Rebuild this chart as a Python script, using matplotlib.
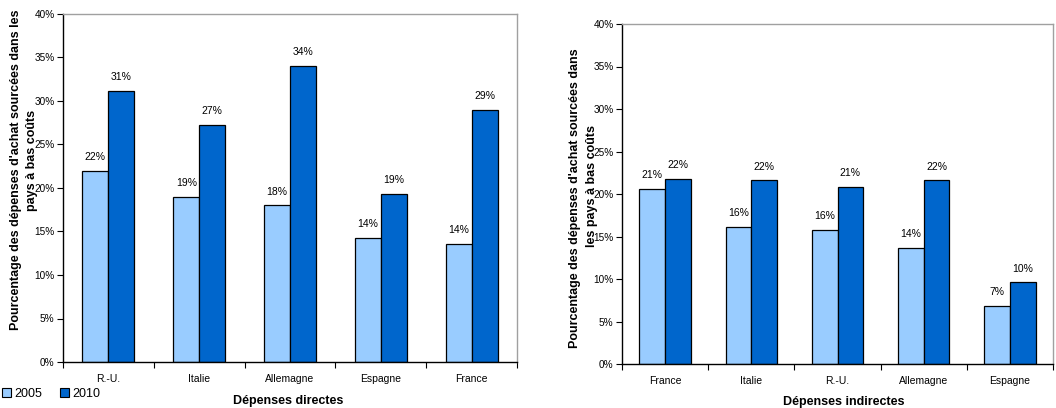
import matplotlib
matplotlib.use('Agg')
import matplotlib.pyplot as plt
from matplotlib.patches import Patch
import numpy as np

plt.rcParams['font.family'] = ['Liberation Sans', 'DejaVu Sans']

# data
years = ["2005", "2010"]
direct_countries = ["R.-U.", "Italie", "Allemagne", "Espagne", "France"]
direct_2005 = [22.0, 19.0, 18.0, 14.3, 13.6]
direct_2010 = [31.2, 27.2, 34.0, 19.3, 29.0]
indirect_countries = ["France", "Italie", "R.-U.", "Allemagne", "Espagne"]
indirect_2005 = [20.6, 16.1, 15.8, 13.7, 6.8]
indirect_2010 = [21.8, 21.6, 20.8, 21.6, 9.6]

light_blue = '#99CCFF'
dark_blue = '#0066CC'
W, H = 1056, 408

fig = plt.figure(figsize=(W / 100, H / 100), dpi=100)


def px_axes(x0, y0, x1, y1):
    # axes from pixel box (top-left origin)
    return fig.add_axes([x0 / W, 1 - y1 / H, (x1 - x0) / W, (y1 - y0) / H])


def draw_panel(ax, countries, v2005, v2010, bw):
    x = np.arange(len(countries))
    b1 = ax.bar(x - bw / 2, v2005, bw, color=light_blue, edgecolor='black', linewidth=0.9)
    b2 = ax.bar(x + bw / 2, v2010, bw, color=dark_blue, edgecolor='black', linewidth=0.9)
    for bars, vals in ((b1, v2005), (b2, v2010)):
        for rect, v in zip(bars, vals):
            ax.annotate(f"{round(v)}%", (rect.get_x() + rect.get_width() / 2, v),
                        xytext=(0, 10), textcoords='offset points',
                        ha='center', va='center', fontsize=7.5)
    ax.set_xlim(-0.5, len(countries) - 0.5)
    ax.set_ylim(0, 40)
    ax.set_yticks(range(0, 41, 5))
    ax.set_yticklabels([f"{t}%" for t in range(0, 41, 5)], fontsize=7.2)
    ax.set_xticks(np.arange(-0.5, len(countries), 1.0))
    ax.set_xticklabels([])
    ax.set_xticks(x, minor=True)
    ax.set_xticklabels(countries, minor=True, fontsize=7.5)
    ax.tick_params(axis='x', which='minor', length=0, pad=9)
    ax.tick_params(axis='x', which='major', length=4, width=0.8)
    ax.tick_params(axis='y', length=4, width=0.8, pad=2)
    for side in ('top', 'right'):
        ax.spines[side].set_color('#A0A0A0')
        ax.spines[side].set_linewidth(1.0)
    for side in ('left', 'bottom'):
        ax.spines[side].set_color('black')
        ax.spines[side].set_linewidth(1.0)


ax1 = px_axes(63, 14, 517, 362)
draw_panel(ax1, direct_countries, direct_2005, direct_2010, 0.286)
ax2 = px_axes(622, 24, 1053, 364)
draw_panel(ax2, indirect_countries, indirect_2005, indirect_2010, 0.298)

# y labels (two lines each)
lab = dict(rotation=90, ha='center', va='center', fontsize=9, fontweight='bold')
fig.text(16 / W, 1 - 170 / H, "Pourcentage des dépenses d'achat sourcées dans les", **lab)
fig.text(32 / W, 1 - 160 / H, "pays à bas coûts", **lab)
fig.text(575 / W, 1 - 198 / H, "Pourcentage des dépenses d'achat sourcées dans", **lab)
fig.text(592 / W, 1 - 186 / H, "les pays à bas coûts", **lab)

# x labels
fig.text(288 / W, 1 - 401 / H, "Dépenses directes", ha='center', va='center', fontsize=9, fontweight='bold')
fig.text(844 / W, 1 - 402 / H, "Dépenses indirectes", ha='center', va='center', fontsize=9, fontweight='bold')

handles = [Patch(facecolor=light_blue, edgecolor='black', linewidth=0.8),
           Patch(facecolor=dark_blue, edgecolor='black', linewidth=0.8)]
fig.legend(handles, years, loc='center left', bbox_to_anchor=(1 / W, 1 - 394 / H),
           ncol=2, frameon=False, fontsize=9, handlelength=0.7, handleheight=0.7,
           handletextpad=0.3, columnspacing=1.4, borderaxespad=0, borderpad=0.1)

fig.savefig('out.png', dpi=100)
